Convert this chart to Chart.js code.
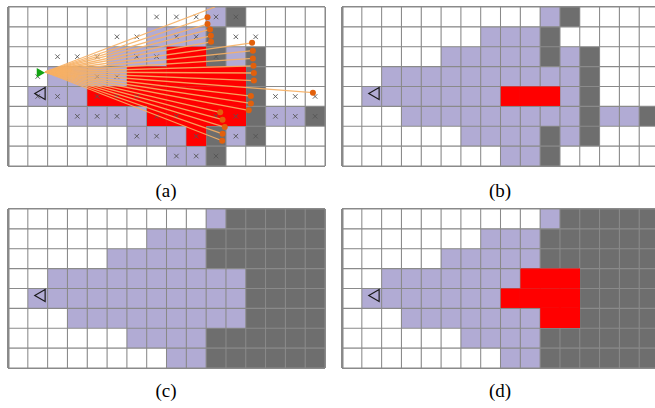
<!DOCTYPE html>
<html>
<head>
<meta charset="utf-8">
<script src="https://cdn.jsdelivr.net/npm/chart.js@4/dist/chart.umd.min.js"></script>
<style>
  html, body { margin: 0; padding: 0; background: #fff; }
  body { width: 655px; height: 408px; position: relative; overflow: hidden; }
  canvas { position: absolute; }
  .cap { position: absolute; width: 100px; text-align: center; font: 19px/20px 'Liberation Serif', 'Times New Roman', serif; color: #000; }
</style>
</head>
<body>
<canvas id="gA" width="321" height="163" style="left:6px;top:5px"></canvas>
<canvas id="gB" width="321" height="163" style="left:340px;top:5px"></canvas>
<canvas id="gC" width="321" height="163" style="left:6px;top:207px"></canvas>
<canvas id="gD" width="321" height="163" style="left:340px;top:207px"></canvas>
<div class="cap" style="left:116px;top:181px">(a)</div>
<div class="cap" style="left:450px;top:181px">(b)</div>
<div class="cap" style="left:116px;top:381px">(c)</div>
<div class="cap" style="left:450px;top:381px">(d)</div>
<script>
// grilles 16x8 : '.' libre/inconnu, 'p' visible, 'd' obstacle, 'r' frontiere
const COLS = 16, ROWS = 8;

const gridA = [
  '..........pd....',
  '.......pppd.....',
  '.....ppprrdpd...',
  '..pppprrrrrrd...',
  '.ppprrrrrrrrd...',
  '...pppprrrrrdppd',
  '......ppprdpd...',
  '........ppd.....'
];
const gridB = [
  '..........pd....',
  '.......pppd.....',
  '.....pppppdpd...',
  '..ppppppppppd...',
  '.ppppppprrrpd...',
  '...pppppppppdppd',
  '......ppppdpd...',
  '........ppd.....'
];
const gridC = [
  '..........pddddd',
  '.......pppdddddd',
  '.....pppppdddddd',
  '..ppppppppppdddd',
  '.pppppppppppdddd',
  '...pppppppppdddd',
  '......ppppdddddd',
  '........ppdddddd'
];
const gridD = [
  '..........pddddd',
  '.......pppdddddd',
  '.....pppppdddddd',
  '..ppppppprrrdddd',
  '.ppppppprrrrdddd',
  '...ppppppprrdddd',
  '......ppppdddddd',
  '........ppdddddd'
];

// cellules observees (a) : colonne, ligne
const markCol = [7,8,9,10,11, 5,6,8,9,11,12, 2,3,4,6,7,10, 1,4,5, 1,2,4,5,6,13,14,15, 3,4,5,7,8,10,11,13,14,15, 6,7,9,11,12, 8,9,10];
const markRow = [0,0,0,0,0,  1,1,1,1,1,1,   2,2,2,2,2,2,    3,3,3, 4,4,4,4,4,4,4,4,     5,5,5,5,5,5,5,5,5,5,       6,6,6,6,6,    7,7,7];

// rayons du capteur (a)
const rayOrigin = { x: 1.87, y: 3.27 };
const rayEndX = [10.45, 10.07, 10.07, 10.2, 10.24, 10.25, 12.32, 12.36, 12.36, 12.39, 12.41, 12.41, 15.39, 12.26, 12.26, 12.15, 10.71, 10.83, 10.94, 10.83, 10.81];
const rayEndY = [0.0,   0.52,  0.86,  1.13, 1.45,  1.75,  1.80,  2.2,   2.59,  2.96,  3.32,  3.70,  4.31,  4.48,  4.85,  5.2,   5.30,  5.67,  6.04,  6.38,  6.73];
const rayHit  = [false, true, true, true, true, true, true, true, true, true, true, true, true, true, true, true, true, true, true, true, true];

const robot = { x: 1.7, y: 4.35 };
const sensor = { x: 1.59, y: 3.31 };

const COLOR = { '.': '#ffffff', 'p': '#b1abd4', 'd': '#6e6e6e', 'r': '#ff0000' };
const LINE = '#8a8a8a';

function cellSets(grid){
  const sets = [];
  for(let c = 0; c < COLS; c++){
    sets.push({
      type: 'bar', indexAxis: 'y', order: 10,
      data: grid.map((row, r) => ({ x: [c, c+1], y: r + 0.5 })),
      backgroundColor: grid.map(row => COLOR[row[c]]),
      // la frontiere (rouge) n'a pas de lignes de grille
      borderColor: grid.map(row => row[c] === 'r' ? COLOR.r : LINE),
      borderWidth: 0.85, borderSkipped: false,
      barPercentage: 1, categoryPercentage: 1, grouped: false
    });
  }
  return sets;
}

function robotSet(){
  return {
    type: 'scatter', order: 0, data: [robot],
    pointStyle: 'triangle', rotation: 270, pointRadius: 6.9,
    backgroundColor: 'rgba(0,0,0,0)', borderColor: '#1a1a1a', borderWidth: 1.2
  };
}

function axis(max, rev){
  return {
    type: 'linear', min: 0, max: max, reverse: rev, offset: false,
    ticks: { display: false, stepSize: 1 },
    grid: { color: LINE, lineWidth: 2, drawTicks: false, offset: false },
    border: { display: false }
  };
}

function makeChart(id, grid, extra){
  return new Chart(document.getElementById(id), {
    type: 'bar',
    data: { datasets: [...cellSets(grid), ...(extra || []), robotSet()] },
    options: {
      responsive: false, animation: false,
      layout: { padding: 2, autoPadding: false },
      plugins: { legend: { display: false }, tooltip: { enabled: false } },
      scales: { x: axis(COLS, false), y: axis(ROWS, true) }
    }
  });
}

// (a) : marques x, rayons, capteur
const extraA = [];
extraA.push({
  type: 'scatter', order: 2,
  data: markCol.map((c, i) => ({ x: c + 0.5, y: markRow[i] + 0.5 })),
  pointStyle: 'crossRot', pointRadius: 3.2, borderColor: '#555', borderWidth: 0.9
});
rayEndX.forEach((ex, i) => {
  extraA.push({
    type: 'line', order: 1,
    data: [rayOrigin, { x: ex, y: rayEndY[i] }],
    borderColor: 'rgba(247,176,100,0.9)', borderWidth: 1.3,
    pointRadius: [0, rayHit[i] ? 3 : 0], pointBackgroundColor: '#e2600c', pointBorderWidth: 0
  });
});
extraA.push({
  type: 'scatter', order: 0, data: [sensor],
  pointStyle: 'triangle', rotation: 90, pointRadius: 5.5,
  backgroundColor: '#13a413', borderWidth: 0
});

makeChart('gA', gridA, extraA);
makeChart('gB', gridB);
makeChart('gC', gridC);
makeChart('gD', gridD);
</script>
</body>
</html>
